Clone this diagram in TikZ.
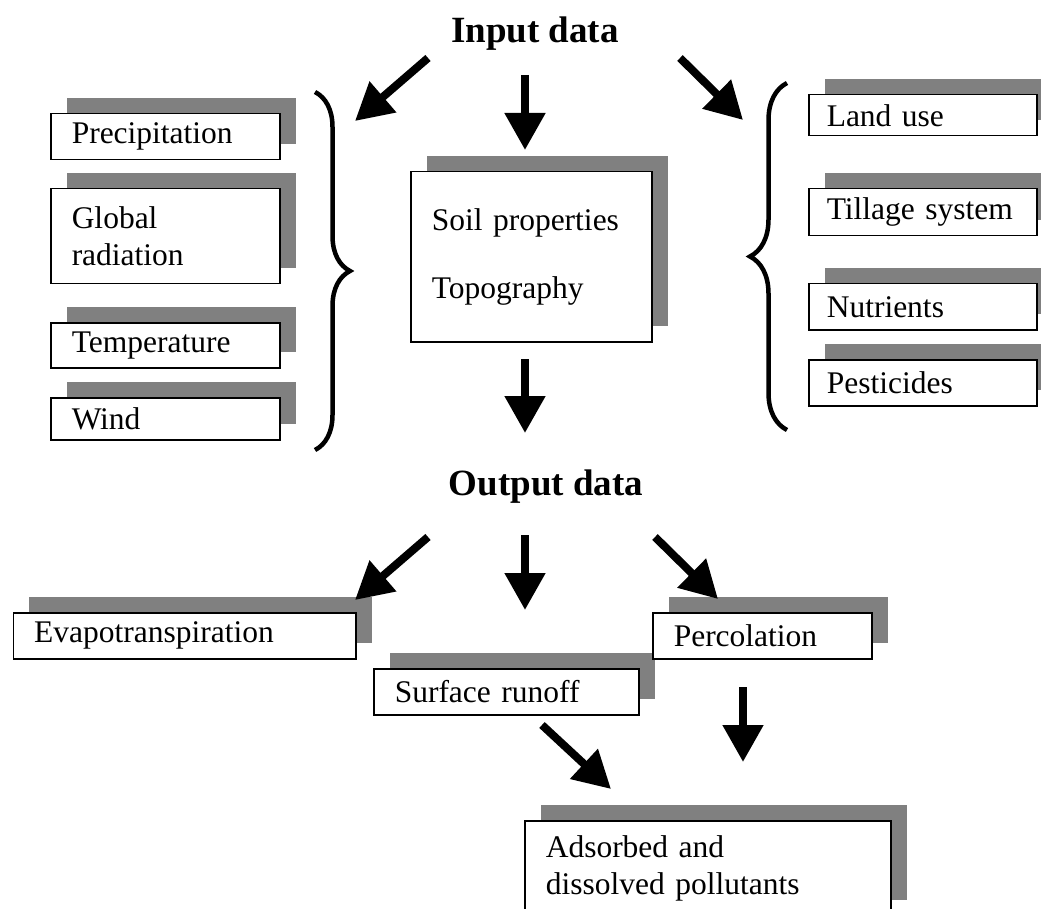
\documentclass[tikz,border=0pt]{standalone}
\usepackage{fontspec}
\setmainfont{Liberation Serif}
\usepackage{xcolor}
\usepackage{tikz}
\usetikzlibrary{arrows.meta,positioning,shadows,decorations.pathreplacing}
\definecolor{shade}{RGB}{128,128,128}
\newcommand{\boxfont}{\fontsize{31.5}{37}\selectfont}
\newcommand{\headfont}{\fontsize{37}{42}\selectfont\bfseries}
\tikzset{
  databox/.style={rectangle, draw=black, line width=1.5pt, fill=white,
                  anchor=north west, align=left, font=\boxfont,
                  inner xsep=21pt, inner ysep=0pt,
                  drop shadow={shadow xshift=16pt, shadow yshift=16pt,
                               opacity=1, fill=shade}},
  heading/.style={font=\headfont, anchor=base, inner sep=0pt},
  fatarrow/.style={-{Triangle[length=37pt, width=39pt]}, line width=8pt},
  curly/.style={decorate, decoration={brace, amplitude=#1}, line width=4.5pt},
}

\begin{document}
\begin{tikzpicture}[x=1pt, y=-1pt]
  \useasboundingbox (0,0) rectangle (1041,909);
  \clip (0,0) rectangle (1041,909);
  % headings
  \node[heading] (input) at (535,43) {Input data};
  \node[heading] (output) at (546,495) {Output data};
  % climate inputs (left)
  \node[databox, text width=187pt, minimum height=46pt] (precip) at (50,113) {Precipitation};
  \node[databox, text width=187pt, minimum height=95pt] (radiation) at (50,188) {Global\\radiation};
  \node[databox, text width=187pt, minimum height=45pt] (temp) at (50,322) {Temperature};
  \node[databox, text width=187pt, minimum height=42pt] (wind) at (50,397) {Wind};
  % site inputs (centre)
  \node[databox, text width=199pt, minimum height=170pt] (soil) at (410,171) {Soil properties\\[31pt]Topography};
  % management inputs (right)
  \node[databox, inner xsep=18pt, text width=192pt, minimum height=41pt] (landuse) at (808,94) {Land use};
  \node[databox, inner xsep=18pt, text width=192pt, minimum height=47pt] (tillage) at (808,188) {Tillage system};
  \node[databox, inner xsep=18pt, text width=192pt, minimum height=46pt] (nutrients) at (808,283) {Nutrients};
  \node[databox, inner xsep=18pt, text width=192pt, minimum height=46pt] (pesticides) at (808,359) {Pesticides};
  % outputs
  \node[databox, text width=300.5pt, minimum height=46pt] (evap) at (12.5,612) {Evapotranspiration};
  \node[databox, text width=223pt, minimum height=46pt] (runoff) at (373,668) {Surface runoff};
  \node[databox, text width=177pt, minimum height=46pt] (perc) at (652,612) {Percolation};
  \node[databox, text width=324pt, minimum height=95pt] (pollut) at (524,820) {Adsorbed and\\dissolved pollutants};
  % braces
  \coordinate (lbtop) at (315,92);   \coordinate (lbbot) at (315,450);
  \coordinate (rbtop) at (787,83);   \coordinate (rbbot) at (787,430);
  \draw[curly=35pt] (lbtop) -- (lbbot);
  \draw[curly=37pt] (rbbot) -- (rbtop);
  % arrow ends
  \coordinate (inL0) at (428,58);    \coordinate (inL1) at (355,121);
  \coordinate (inC0) at (525,75);    \coordinate (inC1) at (525,150);
  \coordinate (inR0) at (680,58);    \coordinate (inR1) at (743,120);
  \coordinate (midC0) at (525,359);  \coordinate (midC1) at (525,433);
  \coordinate (outL0) at (428,537);  \coordinate (outL1) at (355,600);
  \coordinate (outC0) at (525,535);  \coordinate (outC1) at (525,610);
  \coordinate (outR0) at (655,537);  \coordinate (outR1) at (718,599);
  \coordinate (runA) at (542,725);   \coordinate (runB) at (611,789);
  \coordinate (percA) at (743,687);  \coordinate (percB) at (743,762);
  \draw[fatarrow] (inL0) -- (inL1);
  \draw[fatarrow] (inC0) -- (inC1);
  \draw[fatarrow] (inR0) -- (inR1);
  \draw[fatarrow] (midC0) -- (midC1);
  \draw[fatarrow] (outL0) -- (outL1);
  \draw[fatarrow] (outC0) -- (outC1);
  \draw[fatarrow] (outR0) -- (outR1);
  \draw[fatarrow] (runA) -- (runB);
  \draw[fatarrow] (percA) -- (percB);
\end{tikzpicture}
\end{document}
